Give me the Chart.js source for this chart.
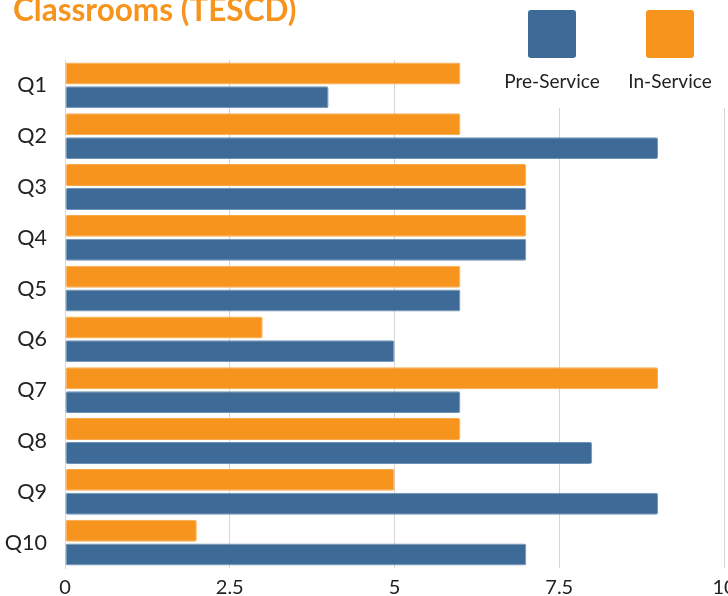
<!DOCTYPE html>
<html>
<head>
<meta charset="utf-8">
<script src="https://cdn.jsdelivr.net/npm/chart.js@4.4.1/dist/chart.umd.min.js"></script>
<style>
  html, body { margin: 0; padding: 0; background: #fff; overflow: hidden; }
  #wrap { position: absolute; left: 0; top: 0; width: 760px; height: 596px; }
</style>
</head>
<body>
<div id="wrap"><canvas id="chart"></canvas></div>
<script>
const categories = ["Q1", "Q2", "Q3", "Q4", "Q5", "Q6", "Q7", "Q8", "Q9", "Q10"];
const preService = [4, 9, 7, 7, 6, 5, 6, 8, 9, 7];
const inService = [6, 6, 7, 7, 6, 3, 9, 6, 5, 2];
const xTicks = [0, 2.5, 5, 7.5, 10];
const titleText = "Classrooms (TESCD)";

const BLUE = "#3d6a96";
const ORANGE = "#f7941e";

// title + legend drawn by hand (boxes above labels, white backing over grid)
const decorations = {
  id: "decorations",
  afterDraw(chart) {
    const ctx = chart.ctx;
    ctx.save();
    ctx.fillStyle = ORANGE;
    ctx.font = "bold 31.5px Lato";
    ctx.textBaseline = "alphabetic";
    ctx.textAlign = "left";
    ctx.fillText(titleText, 13, 21);

    ctx.fillStyle = "#fff";
    ctx.fillRect(495, 0, 265, 108);
    const items = [
      { label: "Pre-Service", color: BLUE, cx: 552 },
      { label: "In-Service", color: ORANGE, cx: 670 }
    ];
    ctx.font = "19px Lato";
    ctx.textAlign = "center";
    ctx.textBaseline = "middle";
    items.forEach(it => {
      ctx.fillStyle = it.color;
      ctx.beginPath();
      ctx.roundRect(it.cx - 24, 10, 48, 48, 3);
      ctx.fill();
      ctx.fillStyle = "#222";
      ctx.fillText(it.label, it.cx, 82);
    });
    ctx.restore();
  }
};

new Chart(document.getElementById("chart"), {
  type: "bar",
  data: {
    labels: categories,
    datasets: [
      {
        label: "In-Service",
        data: inService,
        backgroundColor: ORANGE,
        borderColor: "#f9a94a",
        borderWidth: 1,
        borderRadius: 2,
        borderSkipped: false
      },
      {
        label: "Pre-Service",
        data: preService,
        backgroundColor: BLUE,
        borderColor: "#6f93b8",
        borderWidth: 1,
        borderRadius: 2,
        borderSkipped: false
      }
    ]
  },
  options: {
    indexAxis: "y",
    responsive: true,
    maintainAspectRatio: false,
    animation: false,
    categoryPercentage: 0.94,
    barPercentage: 0.92,
    layout: { padding: { top: 60, right: 36, left: 0, bottom: 0 } },
    plugins: {
      legend: { display: false },
      title: { display: false },
      tooltip: { enabled: false }
    },
    scales: {
      x: {
        min: 0,
        max: 10,
        afterBuildTicks(scale) {
          scale.ticks = xTicks.map(v => ({ value: v }));
        },
        afterFit(scale) { scale.height = 28; },
        grid: { color: "#d6d6d6", drawTicks: false },
        border: { display: false },
        ticks: {
          padding: 8,
          color: "#222",
          font: { family: "Lato", size: 20 }
        }
      },
      y: {
        afterFit(scale) { scale.width = 65; },
        grid: { display: false },
        border: { display: true, color: "#d6d6d6" },
        ticks: {
          padding: 10,
          color: "#222",
          font: { family: "Lato", size: 21.5 }
        }
      }
    }
  },
  plugins: [decorations]
});
</script>
</body>
</html>
